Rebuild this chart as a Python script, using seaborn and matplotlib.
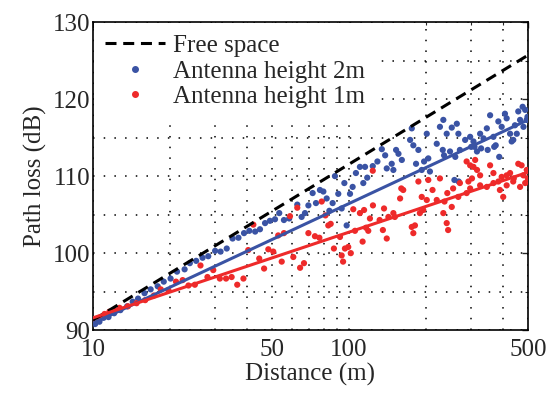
import matplotlib
matplotlib.use("Agg")
import matplotlib.pyplot as plt
import matplotlib.ticker as ticker
from matplotlib.lines import Line2D
import numpy as np
import pandas as pd
import seaborn as sns

COLOUR_2M = "#3a53a4"
COLOUR_1M = "#ee2a2a"

# measured path loss, antenna height 2m
blue_d = [10.2, 10.6, 11.0, 11.5, 12.1, 12.8, 13.6, 14.3, 15.0, 15.9, 16.8, 17.9,
          18.9, 20.1, 21.3, 22.8, 23.9, 25.3, 26.8, 28.2, 30.0, 31.5, 33.3, 35.1,
          37.0, 38.9, 40.8, 43.0, 44.9, 47.0, 49.1, 51.4, 53.4, 55.7, 58.4, 62.8,
          65.3, 67.3, 69.4, 72.1, 74.3, 77.0, 79.4, 81.8, 83.8, 86.3, 88.1, 90.8,
          93.6, 95.9, 97.9, 100.9, 103.3, 106.4, 110.3, 113.7, 115.5, 117.8, 123.8,
          129.1, 134.3, 138.4, 140.4, 146.8, 149.0, 152.7, 156.0, 160.8, 173.2,
          175.8, 178.3, 182.7, 186.6, 192.3, 196.4, 201.2, 204.0, 207.0, 220.1,
          226.5, 232.3, 233.5, 235.0, 240.7, 248.0, 251.9, 258.0, 260.0, 263.6,
          267.4, 268.0, 271.0, 284.1, 297.2, 300.0, 306.2, 309.0, 316.0, 325.1,
          328.0, 335.1, 345.3, 348.0, 355.6, 366.4, 369.0, 374.0, 383.0, 386.0,
          394.6, 406.4, 412.7, 425.6, 431.7, 438.0, 444.6, 452.0, 458.1, 465.6,
          476.4, 480.0, 487.5, 494.0, 497.7]
blue_db = [90.8, 91.1, 91.6, 91.7, 92.2, 92.6, 93.1, 93.7, 94.1, 94.8, 95.3, 95.7,
           96.3, 96.7, 97.6, 97.9, 98.7, 99.0, 99.4, 99.6, 100.3, 100.2, 100.6, 101.9,
           102.0, 102.6, 102.9, 102.8, 103.1, 103.9, 104.2, 104.4, 105.2, 104.3, 104.5, 106.3,
           104.7, 105.2, 106.2, 107.8, 106.5, 108.2, 108.0, 107.1, 105.5, 106.5, 110.0, 107.7,
           105.8, 109.1, 103.6, 107.7, 108.6, 110.4, 111.2, 109.1, 111.2, 109.8, 111.3,
           111.9, 113.5, 112.7, 111.0, 111.6, 110.8, 113.4, 112.9, 112.1, 114.7,
           116.2, 114.0, 111.6, 113.4, 110.8, 111.9, 115.5, 112.3, 110.6, 114.2,
           116.4, 113.4, 117.3, 112.7, 115.5, 113.2, 116.3, 109.5, 112.5, 116.8,
           115.5, 109.3, 113.4, 114.7, 115.1, 113.8, 114.5, 113.8, 113.2, 115.5,
           113.6, 114.9, 116.2, 113.4, 117.9, 115.1, 113.8, 114.0, 117.1, 112.5,
           116.4, 118.1, 117.5, 115.5, 114.5, 114.7, 116.6, 115.5, 118.4, 117.3,
           119.0, 116.4, 118.6, 117.3, 117.7]

# measured path loss, antenna height 1m
red_d = [10.0, 10.6, 11.1, 11.6, 12.2, 12.7, 13.7, 14.8, 16.0, 17.3, 18.4, 19.7,
         21.1, 22.4, 23.6, 25.0, 26.3, 28.0, 29.5, 31.3, 33.1, 34.8, 36.6, 38.7,
         40.4, 42.3, 44.6, 46.6, 48.4, 50.6, 52.9, 54.6, 55.7, 58.8, 60.6, 62.8,
         64.4, 66.7, 69.4, 73.6, 76.6, 78.2, 80.9, 83.0, 84.8, 87.3, 92.2, 93.6,
         94.8, 96.4, 99.3, 101.6, 103.9, 105.5, 110.3, 113.0, 114.5, 116.5, 118.9,
         120.7, 123.8, 124.0, 131.7, 135.6, 137.0, 140.4, 142.5, 149.0, 151.0,
         158.3, 160.0, 162.8, 175.8, 178.3, 180.9, 186.6, 189.1, 192.3, 194.9,
         201.2, 204.0, 211.9, 220.1, 226.5, 233.5, 236.0, 240.7, 242.0, 243.8,
         251.9, 255.0, 267.1, 271.0, 287.9, 287.9, 292.6, 297.2, 297.2, 302.1,
         306.2, 310.9, 316.2, 325.1, 325.1, 345.3, 355.6, 366.4, 366.4, 383.0,
         388.4, 394.6, 400.1, 412.7, 412.7, 425.6, 437.7, 440.0, 458.1, 465.6,
         472.0, 479.5, 487.5, 494.4, 499.0]
red_db = [91.4, 91.6, 92.1, 92.4, 92.5, 92.9, 93.1, 93.5, 93.9, 94.5, 95.3, 95.2,
          96.3, 96.5, 95.8, 95.9, 98.4, 96.9, 97.8, 96.7, 96.7, 96.9, 95.9, 96.7,
          100.4, 103.7, 99.3, 98.0, 100.5, 100.2, 102.3, 98.9, 102.6, 104.8, 99.5, 105.9,
          98.1, 98.7, 102.6, 102.2, 102.0, 106.7, 104.9, 103.6, 103.8, 100.6, 102.1, 99.7,
          98.9, 100.6, 100.8, 100.0, 105.7, 102.9, 105.2, 101.5, 105.6, 103.3, 102.9,
          104.5, 110.7, 106.2, 104.3, 103.0, 105.8, 101.9, 104.7, 105.2, 104.7,
          107.1, 108.4, 108.2, 103.4, 102.6, 103.6, 109.3, 105.2, 107.3, 105.6,
          106.9, 109.5, 108.2, 106.9, 109.7, 105.2, 106.7, 103.9, 107.8, 103.0,
          106.0, 108.4, 107.3, 109.1, 107.8, 111.9, 109.3, 108.4, 111.4, 109.7,
          111.2, 112.1, 110.8, 108.8, 110.1, 108.6, 111.4, 109.1, 110.4, 109.3,
          108.2, 109.9, 107.3, 108.8, 110.1, 110.4, 109.3, 109.7, 111.6, 108.6,
          111.4, 110.1, 109.1, 110.8, 109.7]

# reference / fitted lines (end points)
line_d = [10, 500]
free_space_db = [91.3, 125.7]
fit_2m_db = [90.9, 117.3]
fit_1m_db = [91.6, 110.5]

sns.set_theme(style="white")
plt.rcParams["font.family"] = ["Liberation Serif", "DejaVu Serif"]

df_pts = pd.concat([
    pd.DataFrame({"d": blue_d, "db": blue_db, "h": "2m"}),
    pd.DataFrame({"d": red_d, "db": red_db, "h": "1m"}),
])

fig, ax = plt.subplots(figsize=(5.5, 3.94), dpi=100)
fig.subplots_adjust(left=0.169, right=0.96, bottom=0.162, top=0.944)

sns.scatterplot(data=df_pts, x="d", y="db", hue="h", hue_order=["2m", "1m"],
                palette=[COLOUR_2M, COLOUR_1M], s=20, linewidth=0, ax=ax,
                legend=False, zorder=3)
sns.lineplot(x=line_d, y=free_space_db, color="black", lw=2.2, ax=ax,
             linestyle=(0, (3.6, 2.2)), zorder=4)
sns.lineplot(x=line_d, y=fit_2m_db, color=COLOUR_2M, lw=2.2, ax=ax, zorder=4)
sns.lineplot(x=line_d, y=fit_1m_db, color=COLOUR_1M, lw=2.2, ax=ax, zorder=4)

ax.set_xscale("log")
ax.set_xlim(10, 500)
ax.set_ylim(90, 130)
ax.set_xticks([10, 50, 100, 500])
ax.xaxis.set_major_formatter(ticker.FixedFormatter(["10", "50", "100", "500"]))
ax.xaxis.set_minor_locator(ticker.LogLocator(base=10, subs=np.arange(2, 10)))
ax.xaxis.set_minor_formatter(ticker.NullFormatter())
ax.yaxis.set_major_locator(ticker.MultipleLocator(10))
ax.yaxis.set_minor_locator(ticker.MultipleLocator(5))

ax.grid(True, which="both", color="black", linestyle=(0, (1, 6)), linewidth=1.1)
ax.tick_params(which="both", direction="in", top=True, right=True,
               labelsize=18, pad=2)
ax.tick_params(axis="x", which="both", pad=6)
ax.tick_params(which="major", length=4, width=1)
ax.tick_params(which="minor", length=2.5, width=0.8)
for sp in ax.spines.values():
    sp.set_color("black")
    sp.set_linewidth(1.2)

ax.set_xlabel("Distance (m)", fontsize=18, labelpad=2)
ax.set_ylabel("Path loss (dB)", fontsize=18, labelpad=4)

handles = [
    Line2D([0], [0], color="black", lw=2.2, linestyle=(0, (3.6, 2.2))),
    Line2D([0], [0], color=COLOUR_2M, marker="o", markersize=4, linestyle="none"),
    Line2D([0], [0], color=COLOUR_1M, marker="o", markersize=4, linestyle="none"),
]
leg = ax.legend(handles, ["Free space", "Antenna height 2m", "Antenna height 1m"],
                loc="upper left", fontsize=18, frameon=True, fancybox=False,
                edgecolor="none", facecolor="white", framealpha=1,
                borderaxespad=0.05, borderpad=0.45, handlelength=2.4,
                handletextpad=0.3, labelspacing=0.12)
leg.set_zorder(5)

plt.savefig("out.png", dpi=100)
